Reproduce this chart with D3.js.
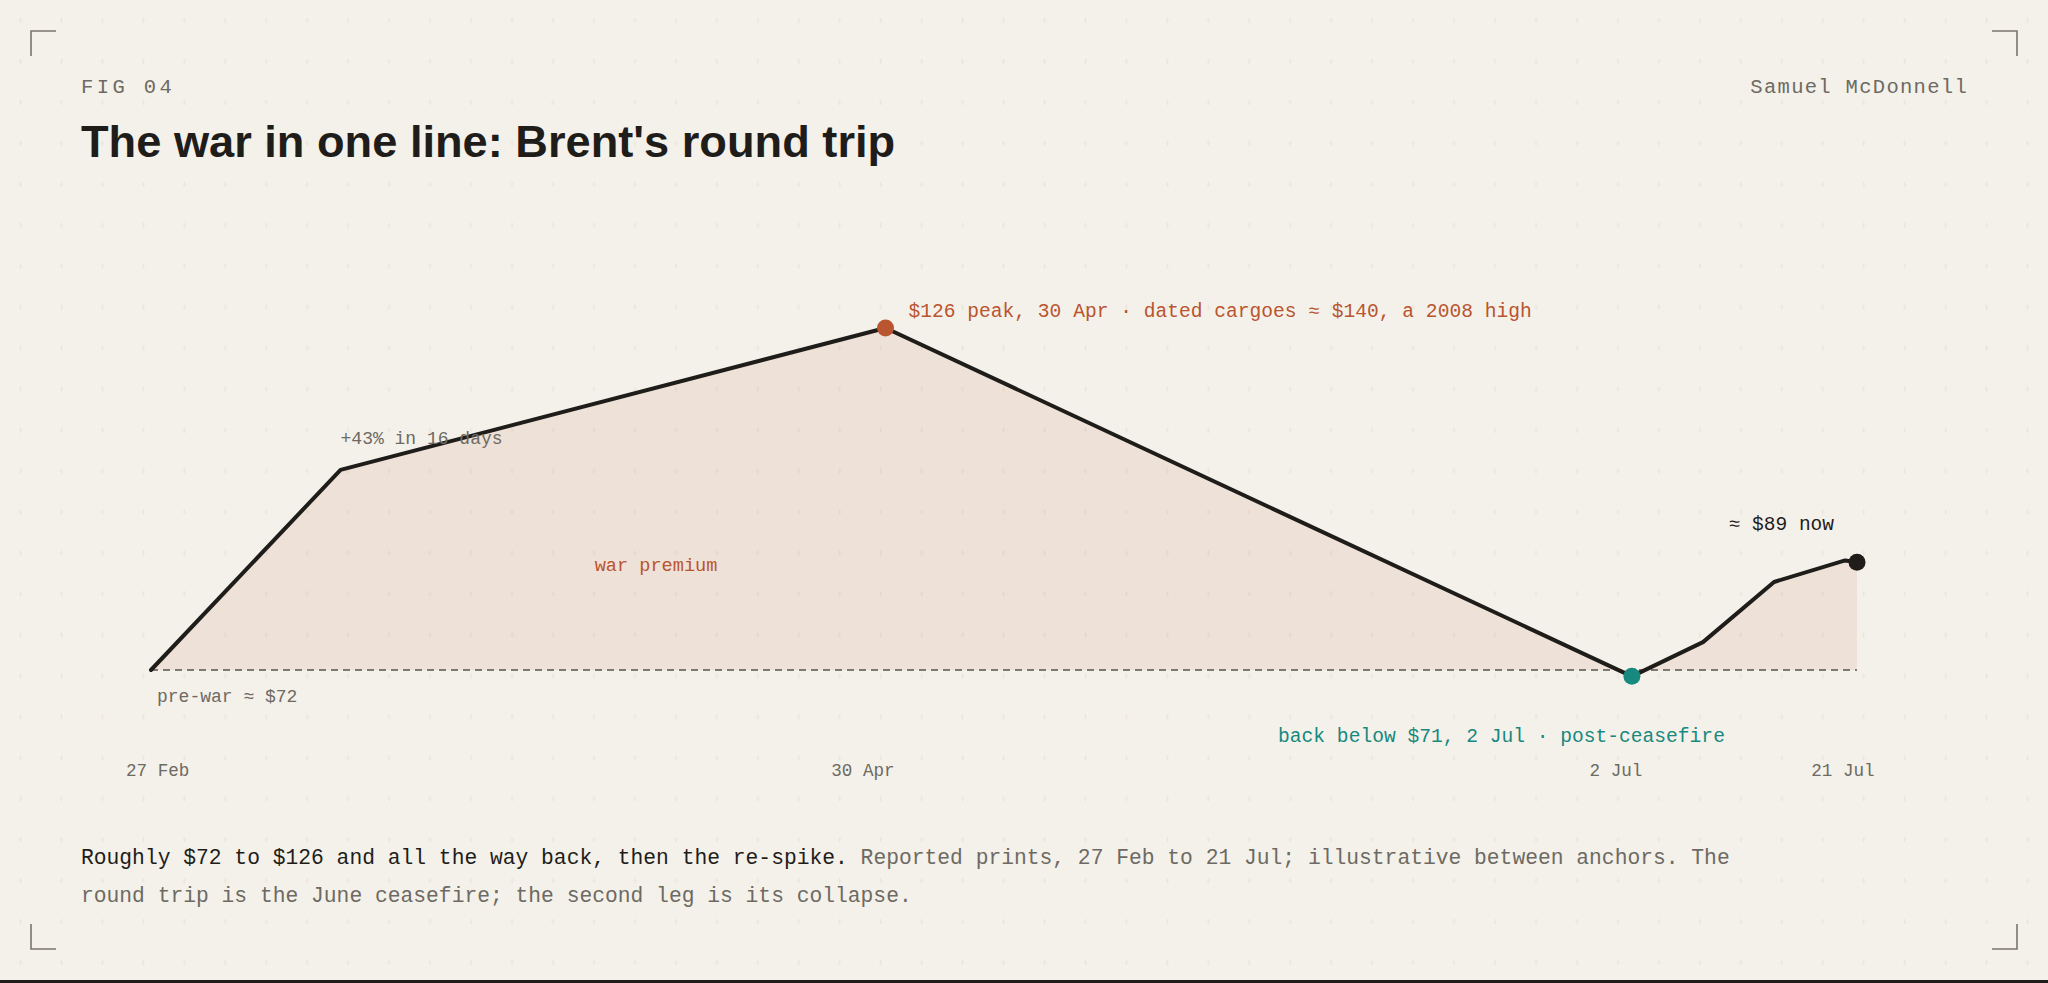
<!DOCTYPE html>
<html>
<head>
<meta charset="utf-8">
<script src="https://cdn.jsdelivr.net/npm/d3@7"></script>
<style>
  html, body { margin: 0; padding: 0; background: #f4f1ea; }
  svg { display: block; }
</style>
</head>
<body>
<svg id="fig" width="2048" height="983"></svg>
<script>
// --- data ---
const DATES = ['2026-02-27', '2026-03-15', '2026-04-30', '2026-07-02', '2026-07-08', '2026-07-14', '2026-07-20', '2026-07-21'];
const PRICES = [72, 103.6, 126, 71, 76.4, 85.9, 89.3, 89];
const PRE_WAR = 72;
const TICK_DATES = ['2026-02-27', '2026-04-30', '2026-07-02', '2026-07-21'];
const TICK_LABELS = ['27 Feb', '30 Apr', '2 Jul', '21 Jul'];

const MONO = "'Liberation Mono', Cousine, monospace";
const SANS = "'Liberation Sans', Arial, sans-serif";
const INK = '#1f1d1a';
const GREY = '#6d6a63';
const RUST = '#b9552f';
const TEAL = '#17897f';

const W = 2048, H = 983;
const parse = d3.timeParse('%Y-%m-%d');
const series = DATES.map((d, i) => ({ date: parse(d), price: PRICES[i] }));

const svg = d3.select('#fig');
const defs = svg.append('defs');

// background dot grid
const pat = defs.append('pattern')
    .attr('id', 'grid')
    .attr('width', 40.96)
    .attr('height', 40.96)
    .attr('patternUnits', 'userSpaceOnUse');
pat.append('rect').attr('x', 19.9).attr('y', 18).attr('width', 1.2).attr('height', 5).attr('fill', '#e8e3da');
pat.append('rect').attr('x', 18.5).attr('y', 20).attr('width', 4).attr('height', 1).attr('fill', '#edeae2');

svg.append('rect').attr('width', W).attr('height', H).attr('fill', '#f4f1ea');
svg.append('rect').attr('width', W).attr('height', 980).attr('fill', 'url(#grid)');
svg.append('rect').attr('y', 980).attr('width', W).attr('height', 3).attr('fill', INK);

// corner brackets
const inset = 31, arm = 25, bottom = 949;
const corners = [
    `M${inset},${inset + arm}V${inset}H${inset + arm}`,
    `M${W - inset - arm},${inset}H${W - inset}V${inset + arm}`,
    `M${inset},${bottom - arm}V${bottom}H${inset + arm}`,
    `M${W - inset - arm},${bottom}H${W - inset}V${bottom - arm}`
];
svg.selectAll('.corner').data(corners).enter()
    .append('path')
    .attr('class', 'corner')
    .attr('d', d => d)
    .attr('fill', 'none')
    .attr('stroke', '#7a766e')
    .attr('stroke-width', 1.6);

// header
svg.append('text')
    .attr('x', 81).attr('y', 92.7)
    .attr('font-family', MONO).attr('font-size', 20.5)
    .attr('letter-spacing', 3.4)
    .attr('fill', GREY)
    .text('FIG 04');

svg.append('text')
    .attr('x', 1968).attr('y', 92.7)
    .attr('text-anchor', 'end')
    .attr('font-family', MONO).attr('font-size', 20.5)
    .attr('letter-spacing', 1.3)
    .attr('fill', GREY)
    .text('Samuel McDonnell');

svg.append('text')
    .attr('x', 81).attr('y', 156.7)
    .attr('font-family', SANS).attr('font-size', 45.2)
    .attr('font-weight', 700)
    .attr('fill', INK)
    .text("The war in one line: Brent's round trip");

// scales
const x = d3.scaleTime()
    .domain(d3.extent(series, d => d.date))
    .range([151, 1857]);
const y = d3.scaleLinear()
    .domain([PRE_WAR, d3.max(PRICES)])
    .range([670, 328]);

const plot = svg.append('g').attr('class', 'plot');

// war premium area (line down to pre-war level)
const area = d3.area()
    .x(d => x(d.date))
    .y0(y(PRE_WAR))
    .y1(d => y(d.price));
plot.append('path')
    .datum(series)
    .attr('d', area)
    .attr('fill', RUST)
    .attr('fill-opacity', 0.1);

// pre-war reference
plot.append('line')
    .attr('x1', x.range()[0]).attr('x2', x.range()[1])
    .attr('y1', y(PRE_WAR)).attr('y2', y(PRE_WAR))
    .attr('stroke', '#57534c')
    .attr('stroke-width', 1.6)
    .attr('stroke-dasharray', '7 5');

// price line
const line = d3.line()
    .x(d => x(d.date))
    .y(d => y(d.price));
plot.append('path')
    .datum(series)
    .attr('d', line)
    .attr('fill', 'none')
    .attr('stroke', INK)
    .attr('stroke-width', 4)
    .attr('stroke-linejoin', 'round')
    .attr('stroke-linecap', 'round');

// key points
const peakIdx = d3.maxIndex(series, d => d.price);
const troughIdx = d3.minIndex(series, d => d.price);
const lastIdx = series.length - 1;
const keyPoints = [
    { d: series[peakIdx], color: RUST },
    { d: series[troughIdx], color: TEAL },
    { d: series[lastIdx], color: INK }
];
plot.selectAll('.key-dot').data(keyPoints).enter()
    .append('circle')
    .attr('class', 'key-dot')
    .attr('cx', k => x(k.d.date))
    .attr('cy', k => y(k.d.price))
    .attr('r', 8.5)
    .attr('fill', k => k.color);

// annotations
function note(txt, px, py, opts) {
    return plot.append('text')
        .attr('x', px).attr('y', py)
        .attr('font-family', MONO)
        .attr('font-size', opts.size || 18)
        .attr('text-anchor', opts.anchor || 'start')
        .attr('fill', opts.color || GREY)
        .text(txt);
}
const peak = series[peakIdx], trough = series[troughIdx], last = series[lastIdx], knee = series[1];
note('$126 peak, 30 Apr \u00b7 dated cargoes \u2248 $140, a 2008 high', x(peak.date) + 23, y(peak.price) - 11.5, { color: RUST, size: 19.6 });
note('+43% in 16 days', x(knee.date), y(knee.price) - 26, { size: 18 });
note('war premium', 656, 570.5, { color: RUST, size: 18.6, anchor: 'middle' });
note('pre-war \u2248 $72', x.range()[0] + 6, y(PRE_WAR) + 32, { size: 18 });
note('\u2248 $89 now', x(last.date) - 23, y(last.price) - 32, { color: INK, size: 19.5, anchor: 'end' });
note('back below $71, 2 Jul \u00b7 post-ceasefire', x(trough.date) + 93, y(trough.price) + 65.5, { color: TEAL, size: 19.6, anchor: 'end' });

// date labels
const xTick = d3.scaleTime()
    .domain(x.domain())
    .range([x.range()[0] - 29, x.range()[1] - 14]);
plot.selectAll('.tick-label').data(TICK_DATES).enter()
    .append('text')
    .attr('class', 'tick-label')
    .attr('x', (d, i) => i === 0 ? x.range()[0] - 25 : xTick(parse(d)))
    .attr('y', 776)
    .attr('text-anchor', (d, i) => i === 0 ? 'start' : 'middle')
    .attr('font-family', MONO)
    .attr('font-size', 17.6)
    .attr('fill', GREY)
    .text((d, i) => TICK_LABELS[i]);

// caption, wrapped by measured width
const LEAD = 'Roughly $72 to $126 and all the way back, then the re-spike.';
const REST = 'Reported prints, 27 Feb to 21 Jul; illustrative between anchors. The round trip is the June ceasefire; the second leg is its collapse.';
const words = LEAD.split(' ').map(w => ({ w, dark: true }))
    .concat(REST.split(' ').map(w => ({ w, dark: false })));
const capSize = 21.3, capMax = 1700;
const probe = svg.append('text').attr('font-family', MONO).attr('font-size', capSize);
const lines = [];
let cur = [];
words.forEach(item => {
    const trial = cur.concat([item]).map(t => t.w).join(' ');
    probe.text(trial);
    if (cur.length && probe.node().getComputedTextLength() > capMax) {
        lines.push(cur);
        cur = [item];
    } else {
        cur.push(item);
    }
});
if (cur.length) lines.push(cur);
probe.remove();

lines.forEach((ln, li) => {
    const t = svg.append('text')
        .attr('x', 81)
        .attr('y', 864.3 + li * 37.4)
        .attr('font-family', MONO)
        .attr('font-size', capSize)
        .attr('xml:space', 'preserve');
    // merge consecutive words with the same tone
    const runs = [];
    ln.forEach((item, i) => {
        const prev = runs[runs.length - 1];
        const txt = (i > 0 ? ' ' : '') + item.w;
        if (prev && prev.dark === item.dark) prev.text += txt;
        else runs.push({ dark: item.dark, text: txt });
    });
    t.selectAll('tspan').data(runs).enter()
        .append('tspan')
        .attr('fill', r => r.dark ? INK : GREY)
        .text(r => r.text);
});
</script>
</body>
</html>
